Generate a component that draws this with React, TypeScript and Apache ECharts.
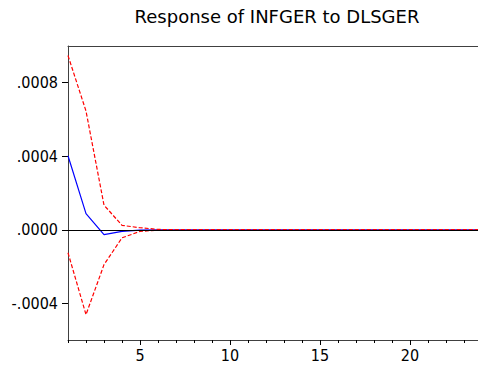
import React, { useEffect, useRef } from "react";
import * as echarts from "echarts";

const periods = [1, 2, 3, 4, 5, 6, 7, 8, 9, 10, 11, 12, 13, 14, 15, 16, 17, 18, 19, 20, 21, 22, 23, 24];
const response = [0.000403, 0.000088, -0.000027, -0.000009, -0.000002, 0, 0, 0, 0, 0, 0, 0, 0, 0, 0, 0, 0, 0, 0, 0, 0, 0, 0, 0];
const upperBand = [0.000948, 0.000646, 0.000134, 0.000024, 0.000011, 0.000002, 0, 0, 0, 0, 0, 0, 0, 0, 0, 0, 0, 0, 0, 0, 0, 0, 0, 0];
const lowerBand = [-0.000125, -0.000462, -0.00019, -0.000044, -0.000009, -0.000002, 0, 0, 0, 0, 0, 0, 0, 0, 0, 0, 0, 0, 0, 0, 0, 0, 0, 0];
const yTickValues = [-0.0004, 0, 0.0004, 0.0008];
const xLabelValues = [5, 10, 15, 20];
const titleText = "Response of INFGER to DLSGER";

const FONT = "DejaVu Sans";
const LABEL_FONT = "'DejaVu Sans Condensed', 'DejaVu Sans', sans-serif";

export default function App() {
  const ref = useRef<HTMLDivElement>(null);
  useEffect(() => {
    if (!ref.current) return;
    const chart = echarts.init(ref.current, undefined, { renderer: "svg" });
    const pairs = (vals: number[]) => periods.map((p, i) => [p, vals[i]]);
    const gridLeft = 68;
    const gridRight = 8;
    const width = 490;
    const axisColor = "#404040";
    chart.setOption({
      animation: false,
      backgroundColor: "#ffffff",
      graphic: [
        {
          type: "text",
          x: (gridLeft + (width - gridRight)) / 2 + 2,
          y: 7,
          style: {
            text: titleText,
            fontFamily: FONT,
            fontSize: 18,
            fill: "#000000",
            textAlign: "center",
            textVerticalAlign: "top",
          },
        },
      ],
      grid: {
        left: gridLeft,
        right: gridRight,
        top: 46,
        bottom: 30,
        show: false,
      },
      xAxis: [
        {
          type: "value",
          position: "bottom",
          min: 1,
          max: 24,
          interval: 1,
          splitLine: { show: false },
          axisLine: { show: true, onZero: false, lineStyle: { color: axisColor, width: 1 } },
          axisTick: { show: true, inside: false, length: 3, lineStyle: { color: "#000000" } },
          axisLabel: {
            customValues: xLabelValues,
            fontFamily: LABEL_FONT,
            fontSize: 16,
            color: "#000000",
            margin: 7,
          },
        },
        {
          type: "value",
          position: "bottom",
          min: 1,
          max: 24,
          splitLine: { show: false },
          axisLine: { show: false, onZero: false },
          axisTick: { show: true, customValues: xLabelValues, length: 5, lineStyle: { color: "#000000" } },
          axisLabel: { show: false },
        },
        {
          type: "value",
          position: "top",
          min: 1,
          max: 24,
          splitLine: { show: false },
          axisLine: { show: true, onZero: false, lineStyle: { color: axisColor, width: 1 } },
          axisTick: { show: false },
          axisLabel: { show: false },
        },
      ],
      yAxis: {
        type: "value",
        min: -0.0006,
        max: 0.001,
        splitLine: { show: false },
        axisLine: { show: true, onZero: false, lineStyle: { color: axisColor, width: 1 } },
        axisTick: { show: true, customValues: yTickValues, length: 6, lineStyle: { color: "#000000" } },
        axisLabel: {
          customValues: yTickValues,
          fontFamily: LABEL_FONT,
          fontSize: 16,
          color: "#000000",
          margin: 10,
          formatter: (v: number) => v.toFixed(4).replace("0.", "."),
        },
      },
      series: [
        {
          type: "line",
          data: pairs(response),
          showSymbol: false,
          lineStyle: { color: "#0000ff", width: 1.2 },
          z: 3,
          markLine: {
            silent: true,
            symbol: "none",
            label: { show: false },
            lineStyle: { color: "#000000", width: 1, type: "solid" },
            data: [{ yAxis: 0 }],
          },
        },
        {
          type: "line",
          data: pairs(upperBand),
          showSymbol: false,
          lineStyle: { color: "#ff0000", width: 1.2, type: [4, 2] },
          z: 4,
        },
        {
          type: "line",
          data: pairs(lowerBand),
          showSymbol: false,
          lineStyle: { color: "#ff0000", width: 1.2, type: [4, 2] },
          z: 4,
        },
      ],
    });
    return () => chart.dispose();
  }, []);
  return (
    <div style={{ position: "fixed", left: 0, top: 0, width: 478, height: 370, overflow: "hidden", background: "#fff" }}>
      <div ref={ref} style={{ width: 490, height: 370 }} />
    </div>
  );
}
